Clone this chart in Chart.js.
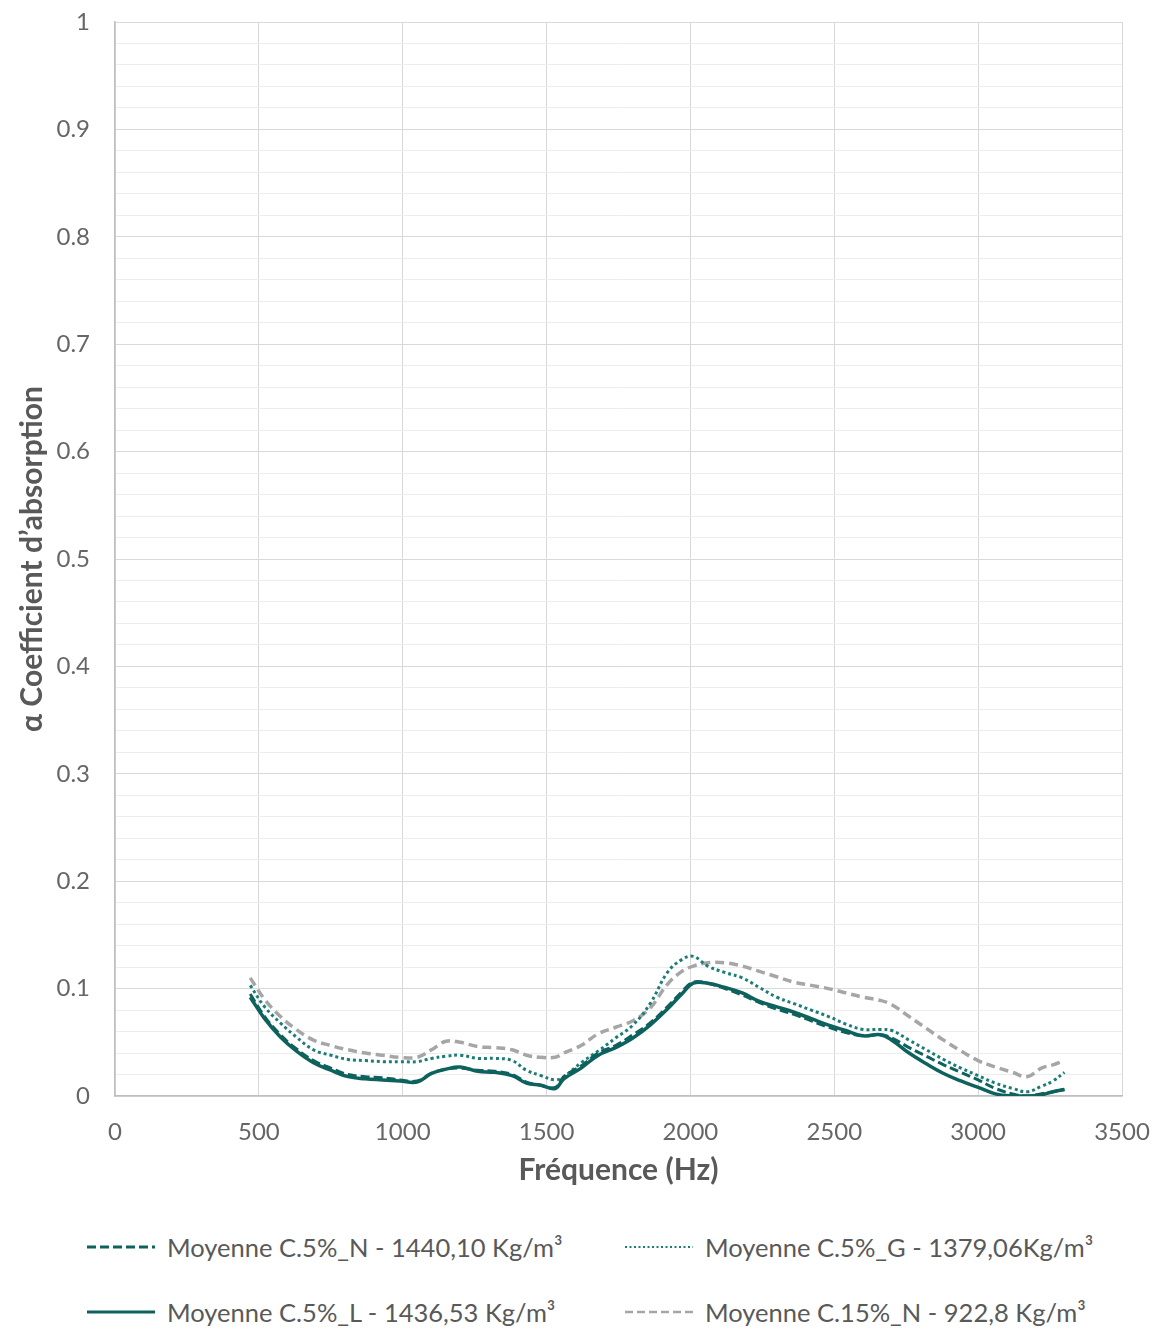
<!DOCTYPE html>
<html>
<head>
<meta charset="utf-8">
<script src="https://cdn.jsdelivr.net/npm/chart.js@4/dist/chart.umd.min.js"></script>
<style>
  html, body { margin: 0; background: #fff; font-family: Lato, sans-serif; overflow: hidden; }
  #wrap { position: relative; width: 1160px; height: 1331px; }
  #lineChart { position: absolute; left: 0; top: 0; }
  .leg { position: absolute; display: flex; align-items: center; color: #595959; font-size: 25.5px; line-height: 30px; white-space: nowrap; }
  .leg svg { margin-right: 12px; }
</style>
</head>
<body>
<div id="wrap">
  <canvas id="lineChart" width="1160" height="1200"></canvas>
  <div class="leg" style="left:87px; top:1232px;"><svg width="68" height="6"><line x1="0" y1="3" x2="68" y2="3" stroke="#0e625d" stroke-width="3" stroke-dasharray="9,4"/></svg>Moyenne C.5%_N - 1440,10 Kg/m³</div>
  <div class="leg" style="left:625px; top:1232px;"><svg width="68" height="6"><line x1="0" y1="3" x2="68" y2="3" stroke="#1b7d77" stroke-width="2" stroke-dasharray="2,2.5"/></svg>Moyenne C.5%_G - 1379,06Kg/m³</div>
  <div class="leg" style="left:87px; top:1297px;"><svg width="68" height="6"><line x1="0" y1="3" x2="68" y2="3" stroke="#0e625d" stroke-width="3"/></svg>Moyenne C.5%_L - 1436,53 Kg/m³</div>
  <div class="leg" style="left:625px; top:1297px;"><svg width="68" height="6"><line x1="0" y1="3" x2="68" y2="3" stroke="#a6a6a6" stroke-width="2.5" stroke-dasharray="8,4"/></svg>Moyenne C.15%_N - 922,8 Kg/m³</div>
</div>
<script>
// Frequencies (Hz) shared by all series
const freqs = [470, 520, 575, 630, 690, 750, 810, 870, 930, 990, 1050, 1100, 1150, 1200, 1260, 1320, 1380, 1430, 1480, 1530,
  1560, 1620, 1680, 1740, 1800, 1860, 1920, 1970, 2010, 2060, 2120, 2180, 2240, 2300, 2360, 2420, 2480, 2540, 2600, 2660,
  2700, 2760, 2820, 2880, 2940, 3000, 3060, 3120, 3170, 3220, 3260, 3300];

// Moyenne C.5%_N
const seriesN = [0.095, 0.074, 0.057, 0.044, 0.033, 0.026, 0.020, 0.018, 0.017, 0.015, 0.014, 0.021, 0.025, 0.026, 0.024, 0.023, 0.020, 0.013, 0.010, 0.008,
  0.018, 0.028, 0.040, 0.047, 0.057, 0.068, 0.083, 0.097, 0.106, 0.105, 0.100, 0.094, 0.087, 0.081, 0.076, 0.070, 0.064, 0.059, 0.056, 0.057,
  0.054, 0.045, 0.037, 0.029, 0.022, 0.015, 0.007, 0.002, 0.000, 0.002, 0.004, 0.006];

// Moyenne C.5%_G
const seriesG = [0.103, 0.083, 0.068, 0.055, 0.043, 0.038, 0.034, 0.033, 0.032, 0.032, 0.032, 0.035, 0.037, 0.038, 0.035, 0.035, 0.033, 0.024, 0.019, 0.015,
  0.018, 0.031, 0.042, 0.054, 0.066, 0.086, 0.115, 0.127, 0.130, 0.121, 0.115, 0.110, 0.101, 0.092, 0.086, 0.080, 0.074, 0.067, 0.062, 0.062,
  0.061, 0.052, 0.043, 0.034, 0.026, 0.019, 0.012, 0.007, 0.004, 0.009, 0.014, 0.022];

// Moyenne C.5%_L
const seriesL = [0.092, 0.072, 0.055, 0.042, 0.031, 0.024, 0.018, 0.016, 0.015, 0.014, 0.013, 0.021, 0.025, 0.027, 0.023, 0.022, 0.019, 0.012, 0.010, 0.007,
  0.016, 0.026, 0.038, 0.045, 0.054, 0.066, 0.081, 0.095, 0.105, 0.105, 0.101, 0.096, 0.088, 0.083, 0.078, 0.072, 0.066, 0.061, 0.056, 0.057,
  0.052, 0.040, 0.030, 0.021, 0.014, 0.008, 0.002, 0.000, 0.000, 0.001, 0.004, 0.006];

// Moyenne C.15%_N
const series15N = [0.110, 0.090, 0.074, 0.062, 0.052, 0.047, 0.043, 0.040, 0.038, 0.036, 0.036, 0.043, 0.051, 0.050, 0.046, 0.045, 0.043, 0.038, 0.036, 0.036,
  0.040, 0.047, 0.058, 0.064, 0.070, 0.082, 0.104, 0.116, 0.121, 0.124, 0.124, 0.121, 0.116, 0.111, 0.106, 0.103, 0.100, 0.096, 0.092, 0.089,
  0.085, 0.074, 0.063, 0.052, 0.042, 0.033, 0.027, 0.022, 0.018, 0.026, 0.029, 0.033];

const xTicks = [0, 500, 1000, 1500, 2000, 2500, 3000, 3500];

const toPoints = (vals) => vals.map((v, i) => ({ x: freqs[i], y: v }));

const ctx = document.getElementById("lineChart").getContext("2d");
new Chart(ctx, {
  type: "line",
  data: {
    datasets: [
      {
        label: "Moyenne C.5%_N - 1440,10 Kg/m³",
        borderColor: "#0e625d",
        borderWidth: 3,
        borderDash: [9, 4],
        data: toPoints(seriesN),
      },
      {
        label: "Moyenne C.5%_G - 1379,06Kg/m³",
        borderColor: "#1b7d77",
        borderWidth: 3,
        borderDash: [3, 3],
        data: toPoints(seriesG),
      },
      {
        label: "Moyenne C.5%_L - 1436,53 Kg/m³",
        borderColor: "#0e625d",
        borderWidth: 3.5,
        data: toPoints(seriesL),
      },
      {
        label: "Moyenne C.15%_N - 922,8 Kg/m³",
        borderColor: "#a6a6a6",
        borderWidth: 3.5,
        borderDash: [9, 5],
        data: toPoints(series15N),
      },
    ],
  },
  options: {
    responsive: false,
    animation: false,
    layout: { padding: { top: 22, right: 38, left: 0, bottom: 12 } },
    elements: {
      point: { radius: 0 },
      line: { tension: 0.4, fill: false },
    },
    plugins: {
      legend: { display: false },
      title: { display: false },
      tooltip: { enabled: false },
    },
    scales: {
      x: {
        type: "linear",
        min: 0,
        max: 3500,
        afterFit: (s) => { s.height = 92; s.paddingLeft = 0; s.paddingRight = 0; },
        afterBuildTicks: (s) => { s.ticks = xTicks.map((v) => ({ value: v })); },
        ticks: {
          padding: 22,
          color: "#666666",
          font: { family: "Lato", size: 24 },
          callback: (v) => String(v),
        },
        grid: { color: "#d9d9d9", drawTicks: false },
        border: { color: "#bfbfbf", width: 1.5 },
        title: {
          display: true,
          text: "Fréquence (Hz)",
          color: "#595959",
          font: { family: "Lato", size: 30, weight: "bold" },
          padding: { top: 0, bottom: 0 },
        },
      },
      y: {
        min: 0,
        max: 1,
        afterFit: (s) => { s.width = 115; s.paddingTop = 0; s.paddingBottom = 0; },
        ticks: {
          stepSize: 0.02,
          padding: 25,
          color: "#666666",
          font: { family: "Lato", size: 24 },
          autoSkip: false,
          callback: (v) => {
            const r = Math.round(v * 100);
            return r % 10 === 0 ? String(r / 100) : "";
          },
        },
        grid: {
          drawTicks: false,
          color: (c) => (Math.round(c.tick.value * 100) % 10 === 0 ? "#d9d9d9" : "#ededed"),
        },
        border: { color: "#bfbfbf", width: 1.5 },
        title: {
          display: true,
          text: "α Coefficient d’absorption",
          color: "#595959",
          font: { family: "Lato", size: 30, weight: "bold" },
          padding: { top: 14 },
        },
      },
    },
  },
});
</script>
</body>
</html>
